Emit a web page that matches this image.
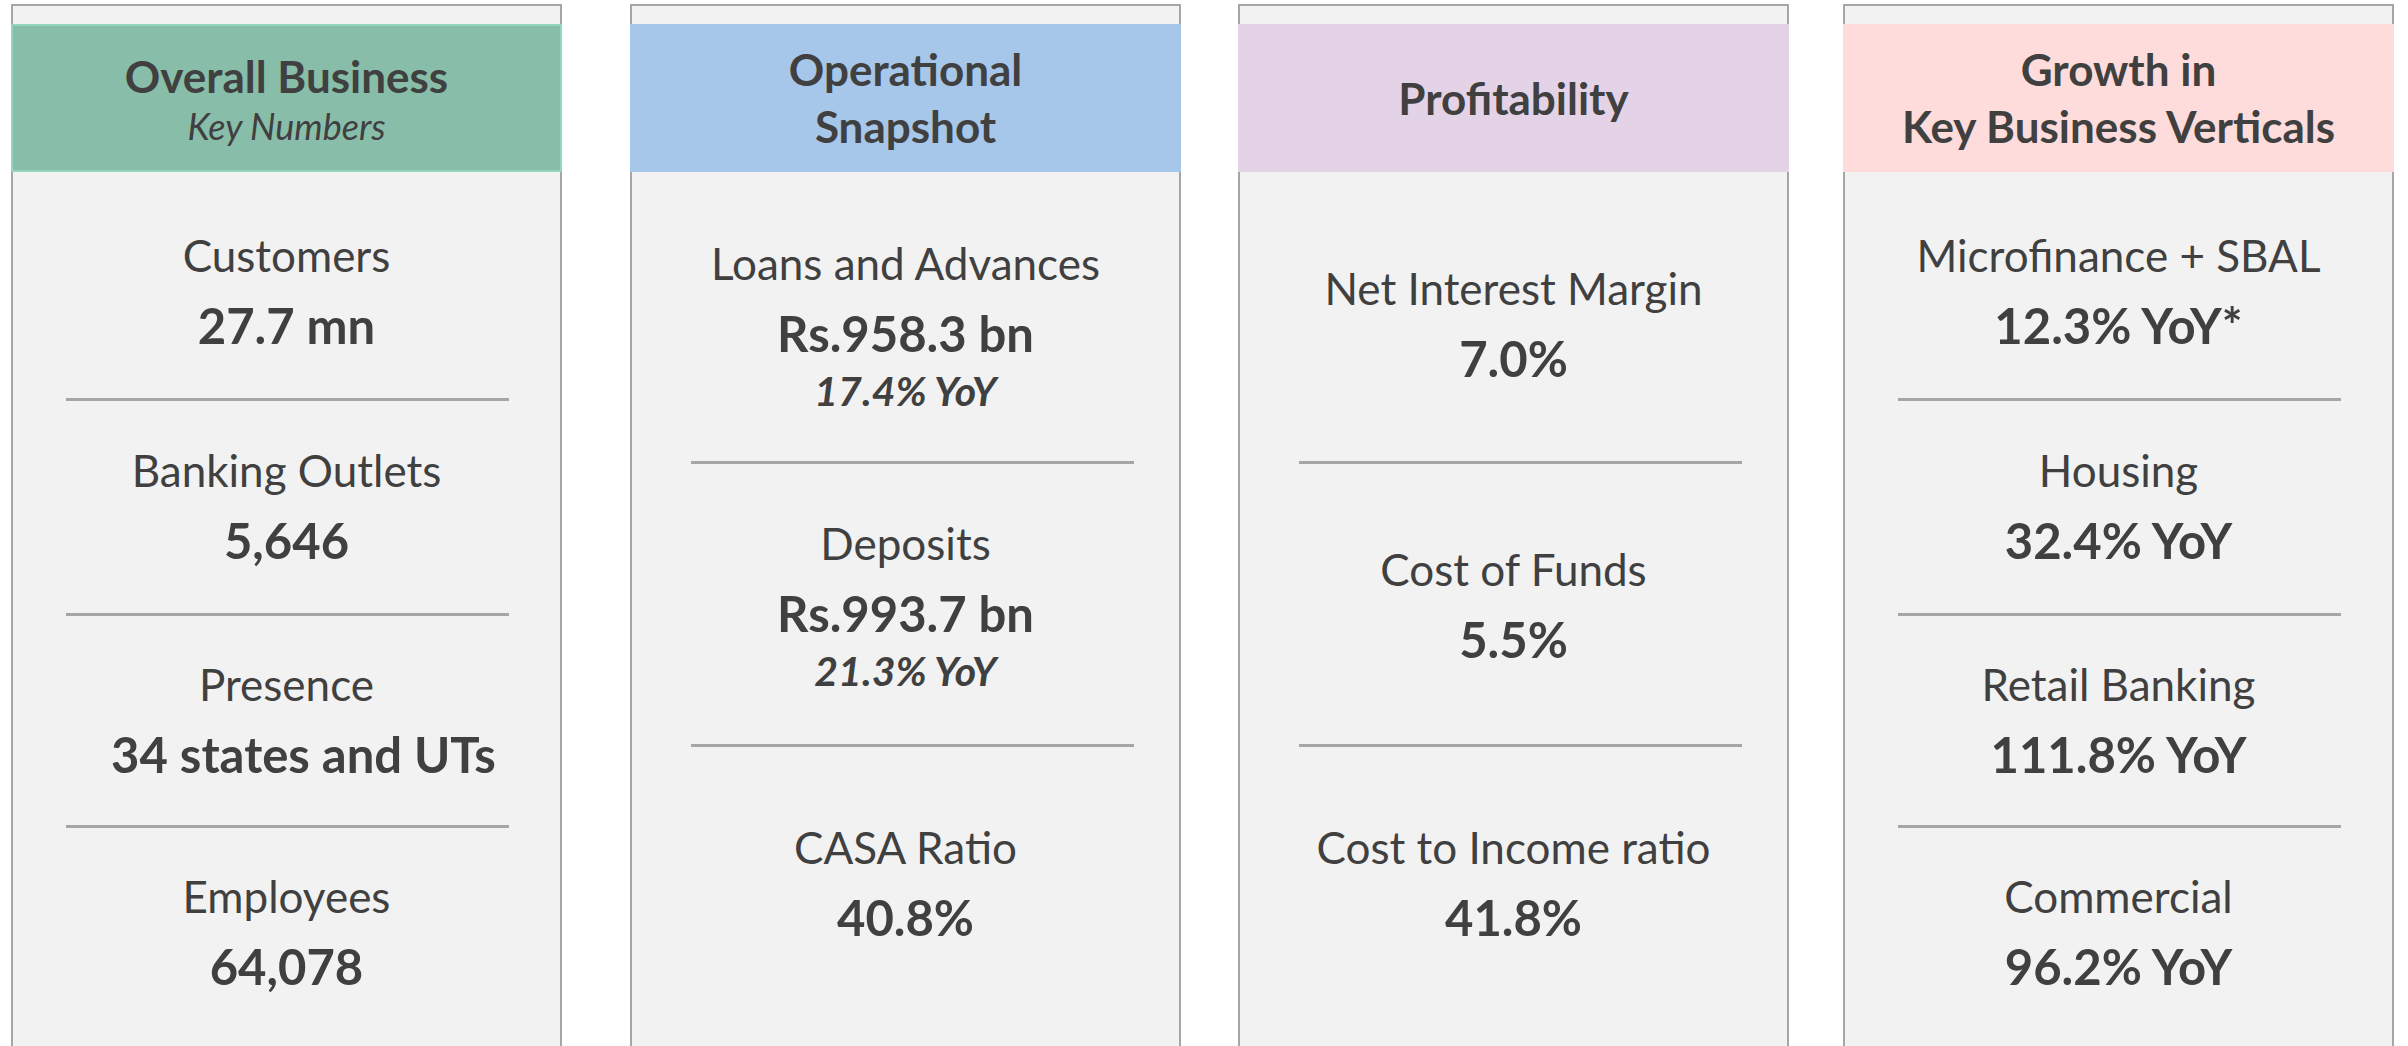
<!DOCTYPE html>
<html lang="en">
<head>
    <meta charset="UTF-8">
    <title>Key Numbers</title>
    <script src="https://cdn.jsdelivr.net/npm/chart.js"></script>
    <style>
        html, body { margin: 0; padding: 0; background: #fff; }
        body { width: 2408px; height: 1046px; position: relative; overflow: hidden; font-family: Lato, "Open Sans", sans-serif; color: #404040; }
        .panel { position: absolute; top: 4px; width: 547px; height: 1060px; background: #f2f2f2; border: 2px solid #a6a6a6; }
        .head { position: absolute; left: -2px; right: -2px; top: 18px; height: 148px; }
        .line { position: absolute; left: 0; right: 0; text-align: center; white-space: nowrap; height: 60px; line-height: 60px; }
        .title { font-weight: bold; font-size: 44px; }
        .sub { font-style: italic; font-size: 36px; }
        .lbl { font-size: 44px; }
        .val { font-weight: bold; font-size: 49px; }
        .yoy { font-weight: bold; font-style: italic; font-size: 41px; }
        .nudge { padding-left: 34px; }
        .rule { position: absolute; width: 443px; height: 3px; background: #a6a6a6; }
    </style>
</head>
<body>
    <div id="panels"></div>

    <script>
        // panel headers
        const panelTitles = [['Overall Business'], ['Operational', 'Snapshot'], ['Profitability'], ['Growth in', 'Key Business Verticals']];
        const panelSubtitles = ['Key Numbers', '', '', ''];
        const headColors = ['#88bea9', '#a7c7ea', '#e4d3e6', '#fddcdb'];

        // metrics per panel
        const overallLabels = ['Customers', 'Banking Outlets', 'Presence', 'Employees'];
        const overallValues = ['27.7 mn', '5,646', '34 states and UTs', '64,078'];

        const operationalLabels = ['Loans and Advances', 'Deposits', 'CASA Ratio'];
        const operationalValues = ['Rs.958.3 bn', 'Rs.993.7 bn', '40.8%'];
        const operationalYoY = ['17.4% YoY', '21.3% YoY', ''];

        const profitLabels = ['Net Interest Margin', 'Cost of Funds', 'Cost to Income ratio'];
        const profitValues = ['7.0%', '5.5%', '41.8%'];

        const growthLabels = ['Microfinance + SBAL', 'Housing', 'Retail Banking', 'Commercial'];
        const growthValues = ['12.3% YoY*', '32.4% YoY', '111.8% YoY', '96.2% YoY'];

        const panelLeft = [11, 630, 1238, 1843];
        const ruleInset = [53, 59, 59, 53];

        function addLine(parent, cls, text, cy) {
            const d = document.createElement('div');
            d.className = 'line ' + cls;
            d.textContent = text;
            d.style.top = (cy - 33) + 'px';
            parent.appendChild(d);
            return d;
        }
        function addRule(parent, y, inset) {
            const r = document.createElement('div');
            r.className = 'rule';
            r.style.top = (y - 3) + 'px';
            r.style.left = inset + 'px';
            parent.appendChild(r);
        }

        const root = document.getElementById('panels');
        const groups = [
            { labels: overallLabels, values: overallValues, yoy: [] },
            { labels: operationalLabels, values: operationalValues, yoy: operationalYoY },
            { labels: profitLabels, values: profitValues, yoy: [] },
            { labels: growthLabels, values: growthValues, yoy: [] }
        ];

        groups.forEach((g, i) => {
            const p = document.createElement('div');
            p.className = 'panel';
            p.style.left = panelLeft[i] + 'px';
            const h = document.createElement('div');
            h.className = 'head';
            h.style.background = headColors[i];
            if (i === 0) h.style.boxShadow = 'inset 0 0 0 2px #93d6bb';
            p.appendChild(h);

            // header text (panel-relative y, panel top is at 4)
            const t = panelTitles[i];
            if (t.length === 2) {
                addLine(p, 'title', t[0], 66);
                addLine(p, 'title', t[1], 123);
            } else if (panelSubtitles[i]) {
                addLine(p, 'title', t[0], 73);
                addLine(p, 'sub', panelSubtitles[i], 123);
            } else {
                addLine(p, 'title', t[0], 95);
            }

            if (g.labels.length === 4) {
                const ly = [252, 467, 681, 893];
                const rules = [395, 610, 822];
                g.labels.forEach((l, k) => {
                    addLine(p, 'lbl', l, ly[k]);
                    const v = addLine(p, 'val', g.values[k], ly[k] + 70);
                    // the presence line sits a bit right of centre in the original
                    if (i === 0 && k === 2) v.classList.add('nudge');
                });
                rules.forEach(y => addRule(p, y, ruleInset[i]));
            } else {
                const ly = i === 1 ? [260, 540, 844] : [285, 566, 844];
                g.labels.forEach((l, k) => {
                    addLine(p, 'lbl', l, ly[k]);
                    addLine(p, 'val', g.values[k], ly[k] + 70);
                    if (g.yoy[k]) addLine(p, 'yoy', g.yoy[k], ly[k] + 128);
                });
                [458, 741].forEach(y => addRule(p, y, ruleInset[i]));
            }
            root.appendChild(p);
        });
    </script>
</body>
</html>
